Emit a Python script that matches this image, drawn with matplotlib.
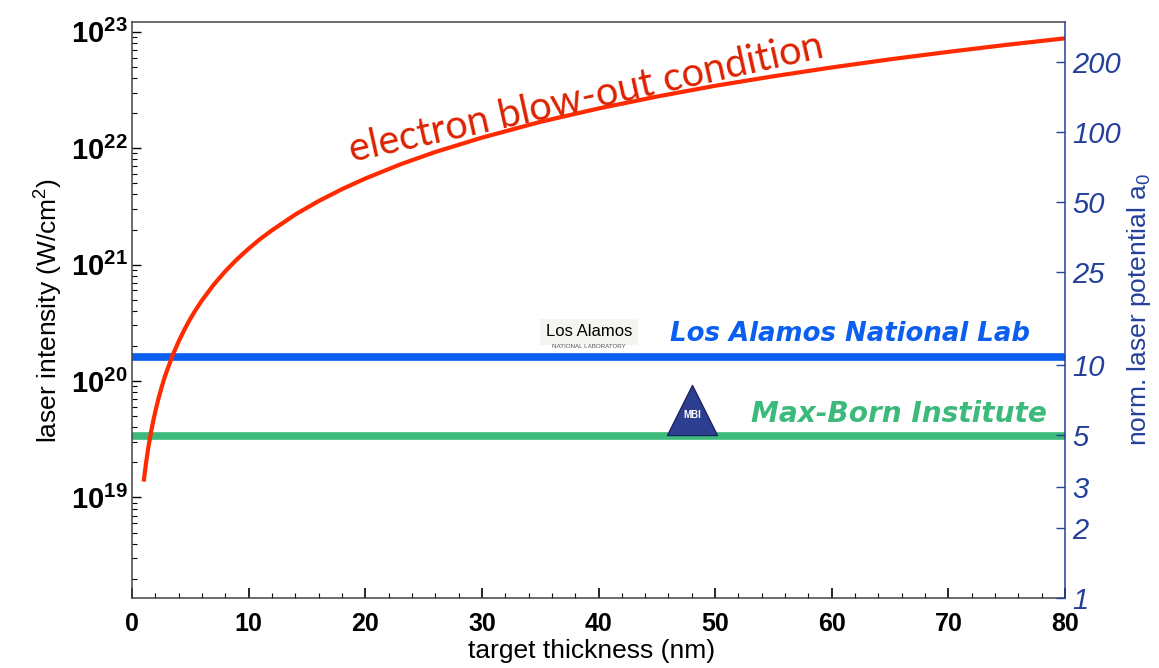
import numpy as np
import matplotlib
matplotlib.use("Agg")
import matplotlib.pyplot as plt
from matplotlib.ticker import FixedLocator, NullLocator, NullFormatter

plt.rcParams['font.family'] = ['Liberation Sans', 'DejaVu Sans']
plt.rcParams['mathtext.fontset'] = 'custom'
plt.rcParams['mathtext.rm'] = 'Liberation Sans'
plt.rcParams['mathtext.bf'] = 'Liberation Sans:bold'
plt.rcParams['mathtext.it'] = 'Liberation Sans:italic'

# electron blow-out condition
thickness = [1, 1.2, 1.4, 1.6, 1.8, 2, 2.25, 2.5, 2.75, 3, 3.5, 4, 4.5, 5,
             5.5, 6, 7, 8, 9, 10, 11, 12, 14, 16, 18, 20, 23, 26, 30, 35,
             40, 45, 50, 55, 60, 65, 70, 75, 80]
blowout = [1.37e19, 1.97e19, 2.69e19, 3.51e19, 4.44e19, 5.48e19, 6.94e19,
           8.56e19, 1.04e20, 1.23e20, 1.68e20, 2.19e20, 2.77e20, 3.43e20,
           4.14e20, 4.93e20, 6.71e20, 8.77e20, 1.11e21, 1.37e21, 1.66e21,
           1.97e21, 2.69e21, 3.51e21, 4.44e21, 5.48e21, 7.25e21, 9.26e21,
           1.23e22, 1.68e22, 2.19e22, 2.77e22, 3.43e22, 4.14e22, 4.93e22,
           5.79e22, 6.71e22, 7.71e22, 8.77e22]

# laser facilities (intensity, W/cm^2)
lab_x = [0, 80]
lanl = [1.6e20, 1.6e20]
mbi = [3.4e19, 3.4e19]

y_ticks = [1e19, 1e20, 1e21, 1e22, 1e23]
y_ticklabels = [r'$\mathbf{10^{19}}$', r'$\mathbf{10^{20}}$', r'$\mathbf{10^{21}}$',
                r'$\mathbf{10^{22}}$', r'$\mathbf{10^{23}}$']
a0_ticks = [1, 2, 3, 5, 10, 25, 50, 100, 200]
x_ticks = [0, 10, 20, 30, 40, 50, 60, 70, 80]

i_lo, i_hi = 1.37e18, 1.21e23
a0_ref = 1.37e18  # intensity at a0 = 1

red = '#ff2a00'
blue = '#0a5ff0'
green = '#3bba7c'
navy = '#24409a'

fig = plt.figure(figsize=(11.59, 6.68), dpi=100)
ax = fig.add_axes([0.1139, 0.1048, 0.805, 0.8622])

ax.plot(thickness, blowout, color=red, lw=3, solid_capstyle='butt',
        solid_joinstyle='round', zorder=3)
ax.plot(lab_x, lanl, color=blue, lw=5.5, solid_capstyle='butt', zorder=2)
ax.plot(lab_x, mbi, color=green, lw=5.5, solid_capstyle='butt', zorder=2)

ax.set_yscale('log')
ax.set_xlim(0, 80)
ax.set_ylim(i_lo, i_hi)

ax.yaxis.set_major_locator(FixedLocator(y_ticks))
ax.set_yticklabels(y_ticklabels)
ax.yaxis.set_minor_locator(FixedLocator(
    [m * 10.0 ** e for e in range(18, 23) for m in range(2, 10)]))
ax.yaxis.set_minor_formatter(NullFormatter())
ax.set_xticks(x_ticks)
ax.set_xticks(np.arange(0, 81, 2), minor=True)

ax.tick_params(axis='y', which='major', direction='in', length=6.5, width=1,
               labelsize=21, pad=3, right=False)
ax.tick_params(axis='y', which='minor', direction='in', length=3.4, width=0.8,
               right=False)
ax.tick_params(axis='x', which='major', direction='in', length=7, width=1.2,
               labelsize=18, pad=10, top=False)
ax.tick_params(axis='x', which='minor', direction='in', length=3.5, width=0.8,
               top=False)
for lab in ax.get_xticklabels():
    lab.set_fontweight('bold')

for s in ['left', 'bottom', 'top']:
    ax.spines[s].set_color('#444444')
    ax.spines[s].set_linewidth(1.1)
ax.spines['right'].set_visible(False)

ax.set_xlabel('target thickness (nm)', fontsize=19)
ax.xaxis.set_label_coords(0.493, -0.072)
ax.set_ylabel('laser intensity (W/cm$^2$)', fontsize=19)
ax.yaxis.set_label_coords(-0.072, 0.5)

# right axis: normalized laser potential a0
ax2 = ax.twinx()
ax2.set_yscale('log')
ax2.set_ylim(np.sqrt(i_lo / a0_ref), np.sqrt(i_hi / a0_ref))
ax2.yaxis.set_major_locator(FixedLocator(a0_ticks))
ax2.set_yticklabels([str(v) for v in a0_ticks])
ax2.yaxis.set_minor_locator(NullLocator())
ax2.tick_params(axis='y', direction='in', length=6.5, width=1, colors=navy,
                labelsize=21, pad=5)
for lab in ax2.get_yticklabels():
    lab.set_fontstyle('italic')
for s in ['left', 'bottom', 'top']:
    ax2.spines[s].set_visible(False)
ax2.spines['right'].set_color(navy)
ax2.spines['right'].set_linewidth(1.1)
ax2.set_ylabel('norm. laser potential a$_0$', fontsize=19, color=navy)
ax2.yaxis.set_label_coords(1.064, 0.5)

# annotations
ax.text(0.4866, 0.868, 'electron blow-out condition', transform=ax.transAxes,
        fontsize=28.5, color='#dd2200', rotation=12.5, ha='center', va='center',
        family=['Lato', 'DejaVu Sans'])
ax.text(0.963, 0.459, 'Los Alamos National Lab', transform=ax.transAxes,
        fontsize=18.7, color=blue, ha='right', va='center', fontweight='bold',
        fontstyle='italic', family=['DejaVu Sans'])
ax.text(0.981, 0.319, 'Max-Born Institute', transform=ax.transAxes,
        fontsize=20.2, color=green, ha='right', va='center', fontweight='bold',
        fontstyle='italic', family=['DejaVu Sans'])

# stand-ins for the two logos
ax.text(0.49, 0.462, 'Los Alamos', transform=ax.transAxes, fontsize=12,
        color='black', ha='center', va='center',
        bbox=dict(boxstyle='square,pad=0.35', fc='#f4f4f0', ec='none'))
ax.text(0.49, 0.437, 'NATIONAL LABORATORY', transform=ax.transAxes,
        fontsize=4.5, color='#555555', ha='center', va='center')
ax.scatter([0.6], [0.327], transform=ax.transAxes, marker='^', s=1300,
           color='#2e3f91', edgecolor='#1b2560', zorder=4, clip_on=False)
ax.text(0.6, 0.318, 'MBI', transform=ax.transAxes, fontsize=7,
        color='white', ha='center', va='center', fontweight='bold', zorder=5)

fig.savefig('out.png', dpi=100)
